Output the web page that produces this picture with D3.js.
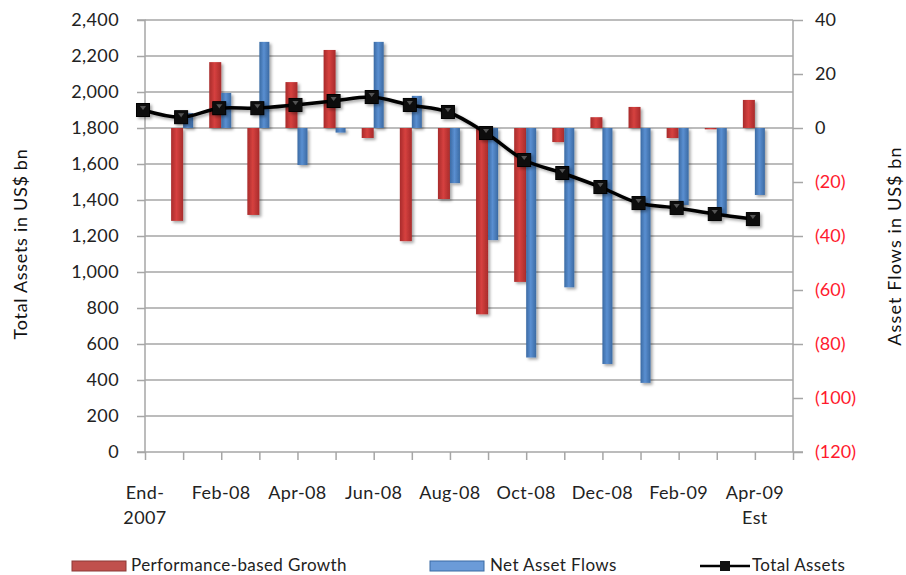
<!DOCTYPE html>
<html><head><meta charset="utf-8">
<script src="https://cdn.jsdelivr.net/npm/d3@7"></script>
<style>
body{margin:0;background:#fff;}
text{font-family:Lato,"Open Sans",sans-serif;}
</style></head>
<body><svg id="c" width="906" height="575"></svg>
<script>
const categories=["End-2007","Jan-08","Feb-08","Mar-08","Apr-08","May-08","Jun-08","Jul-08","Aug-08","Sep-08","Oct-08","Nov-08","Dec-08","Jan-09","Feb-09","Mar-09","Apr-09 Est"];
const perfGrowth=[0,-34.4,24.4,-32.2,17,28.9,-3.7,-41.9,-26.3,-69,-57,-5.2,4,7.8,-3.7,-0.5,10.4];
const netFlows=[0,5.5,13,31.9,-13.7,-1.7,31.9,11.9,-20.4,-41.5,-85,-59,-87.4,-94.4,-28.5,-32,-24.8];
const totalAssets=[1900,1860,1910,1910,1928,1950,1972,1928,1889,1772,1622,1550,1472,1383,1356,1322,1294];
const leftTicks=[0,200,400,600,800,1000,1200,1400,1600,1800,2000,2200,2400];
const rightTicks=[40,20,0,-20,-40,-60,-80,-100,-120];
const xLabels={0:["End-","2007"],2:["Feb-08"],4:["Apr-08"],6:["Jun-08"],8:["Aug-08"],10:["Oct-08"],12:["Dec-08"],14:["Feb-09"],16:["Apr-09","Est"]};

const svg=d3.select("#c");
const L=145,R=793,T=20,B=452;
const x=d3.scalePoint().domain(d3.range(18)).range([L,R]);
const yL=d3.scaleLinear().domain([0,2400]).range([B,T]);
const yR=d3.scaleLinear().domain([-120,40]).range([B,T]);

const defs=svg.append("defs");
function grad(id,edge,mid){
  const g=defs.append("linearGradient").attr("id",id).attr("x1","0").attr("x2","1").attr("y1","0").attr("y2","0");
  g.append("stop").attr("offset","0").attr("stop-color",edge);
  g.append("stop").attr("offset","0.45").attr("stop-color",mid);
  g.append("stop").attr("offset","1").attr("stop-color",edge);
}
grad("gr","#a82b2b","#d6413f");
grad("gb","#3b6aa3","#5a8fd1");
const f=defs.append("filter").attr("id","sh").attr("x","-50%").attr("y","-20%").attr("width","200%").attr("height","140%");
f.append("feDropShadow").attr("dx",2).attr("dy",2).attr("stdDeviation",1.5).attr("flood-color","#000").attr("flood-opacity",0.35);

// gridlines
svg.append("g").selectAll("line").data(leftTicks.filter(d=>d>0)).join("line")
  .attr("x1",L).attr("x2",R).attr("y1",d=>yL(d)).attr("y2",d=>yL(d))
  .attr("stroke","#a6a6a6").attr("stroke-width",1.5);

// left axis
const gL=svg.append("g").attr("transform",`translate(${L},0)`)
  .call(d3.axisLeft(yL).tickValues(leftTicks).tickSize(8).tickPadding(18).tickFormat(d3.format(",")));
gL.select(".domain").attr("stroke","#a6a6a6").attr("stroke-width",1.5).attr("d",`M-8,${T}H0V${B}`);
gL.selectAll(".tick line").attr("stroke","#a6a6a6").attr("stroke-width",1.5);
gL.selectAll(".tick text").attr("font-size",18).attr("fill","#222").attr("font-family","Lato").attr("letter-spacing",0.4);

// right axis
const gR=svg.append("g").attr("transform",`translate(${R},0)`)
  .call(d3.axisRight(yR).tickValues(rightTicks).tickSize(10).tickPadding(12).tickFormat(d=>d<0?`(${-d})`:d));
gR.select(".domain").attr("stroke","#a6a6a6").attr("stroke-width",1.5).attr("d",`M0,${T}V${B}`);
gR.selectAll(".tick line").attr("stroke","#a6a6a6").attr("stroke-width",1.5);
gR.selectAll(".tick text").attr("font-size",18).attr("font-family","Lato").attr("fill",d=>d<0?"#ff1a2e":"#222");

// x axis
const gX=svg.append("g").attr("transform",`translate(0,${B})`)
  .call(d3.axisBottom(x).tickSize(8).tickFormat(""));
gX.select(".domain").attr("stroke","#a6a6a6").attr("stroke-width",1.5).attr("d",`M${L-8},0H${R+10}`);
gX.selectAll(".tick line").attr("stroke","#a6a6a6").attr("stroke-width",1.5);
const xl=svg.append("g");
Object.entries(xLabels).forEach(([i,lines])=>{
  lines.forEach((s,k)=>{
    xl.append("text").attr("x",x(+i)).attr("y",499+k*25).attr("text-anchor","middle")
      .attr("font-size",18).attr("letter-spacing",0.4).attr("fill","#222").text(s);
  });
});

// bars
const bw1=12,bw2=10;
svg.append("g").attr("filter","url(#sh)").selectAll("rect").data(perfGrowth).join("rect")
  .attr("x",(d,i)=>x(i)-bw1).attr("width",bw1)
  .attr("y",d=>yR(Math.max(0,d))).attr("height",d=>Math.abs(yR(d)-yR(0)))
  .attr("fill","url(#gr)");
svg.append("g").attr("filter","url(#sh)").selectAll("rect").data(netFlows).join("rect")
  .attr("x",(d,i)=>x(i)).attr("width",bw2)
  .attr("y",d=>yR(Math.max(0,d))).attr("height",d=>Math.abs(yR(d)-yR(0)))
  .attr("fill","url(#gb)");

// line
const lg=svg.append("g").attr("filter","url(#sh)").attr("transform","translate(-2,0)");
lg.append("path").datum(totalAssets)
  .attr("d",d3.line().x((d,i)=>x(i)).y(d=>yL(d)).curve(d3.curveCatmullRom.alpha(0.5)))
  .attr("fill","none").attr("stroke","#000").attr("stroke-width",3.5);
lg.selectAll("rect").data(totalAssets).join("rect")
  .attr("x",(d,i)=>x(i)-6.5).attr("y",d=>yL(d)-6.5).attr("width",13).attr("height",13)
  .attr("fill","#111").attr("stroke","#000").attr("stroke-width",1);
lg.selectAll("path.tri").data(totalAssets).join("path").attr("class","tri")
  .attr("d",(d,i)=>`M${x(i)-3},${yL(d)-4}L${x(i)+3},${yL(d)-4}L${x(i)},${yL(d)}Z`)
  .attr("fill","#555");

// axis titles
svg.append("text").attr("transform","translate(27,244) rotate(-90)").attr("text-anchor","middle")
  .attr("font-size",18).attr("letter-spacing",0.7).attr("fill","#111").text("Total Assets in US$ bn");
svg.append("text").attr("transform","translate(901,246) rotate(-90)").attr("text-anchor","middle")
  .attr("font-size",18).attr("letter-spacing",1.1).attr("fill","#111").text("Asset Flows in US$ bn");

// legend
const leg=svg.append("g");
leg.append("rect").attr("x",72).attr("y",561).attr("width",54).attr("height",10).attr("fill","#c0504d").attr("stroke","#8c3836");
leg.append("text").attr("x",131).attr("y",571).attr("font-size",17).attr("letter-spacing",0.4).attr("fill","#222").text("Performance-based Growth");
leg.append("rect").attr("x",430).attr("y",561).attr("width",54).attr("height",10).attr("fill","#6b9bd8").attr("stroke","#3b6aa3");
leg.append("text").attr("x",490).attr("y",571).attr("font-size",17).attr("letter-spacing",0.4).attr("fill","#222").text("Net Asset Flows");
leg.append("line").attr("x1",700).attr("x2",750).attr("y1",566).attr("y2",566).attr("stroke","#000").attr("stroke-width",2.5);
leg.append("rect").attr("x",720).attr("y",561).attr("width",10).attr("height",10).attr("fill","#111");
leg.append("text").attr("x",752).attr("y",571).attr("font-size",17).attr("letter-spacing",0.4).attr("fill","#222").text("Total Assets");
</script></body></html>
